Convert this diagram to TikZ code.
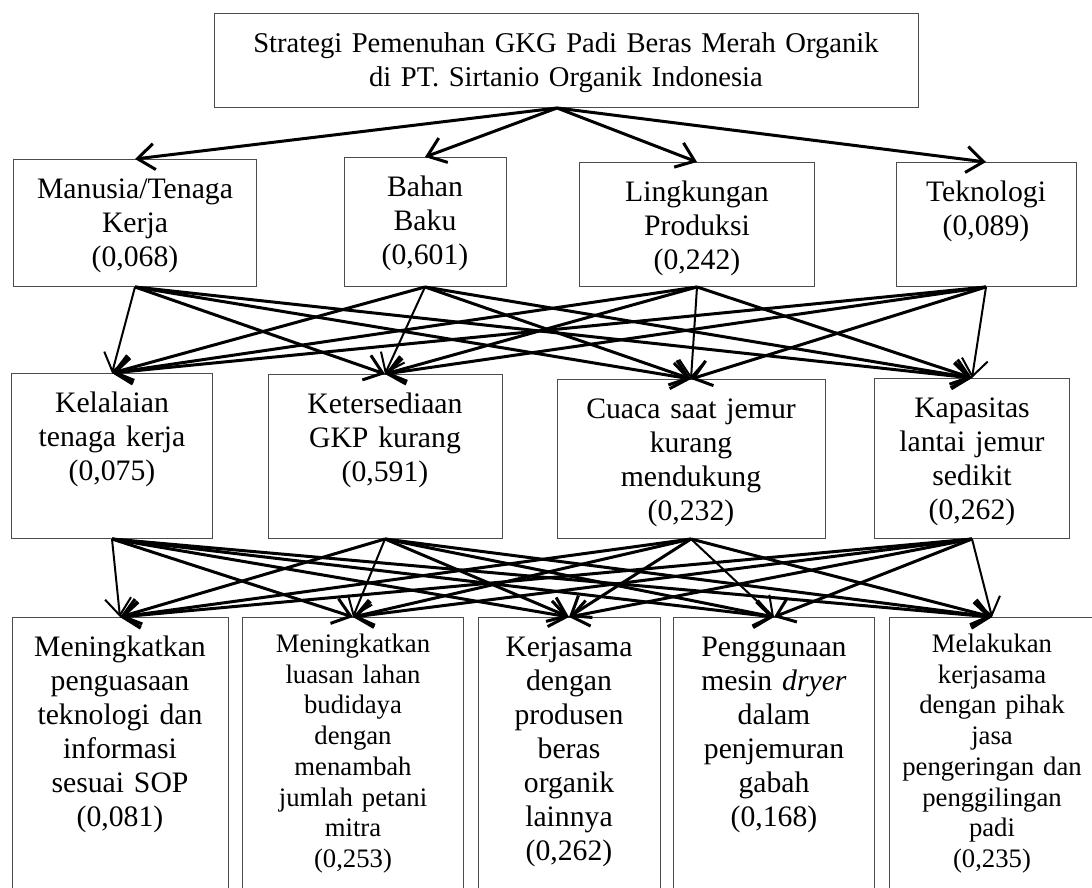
\documentclass[tikz,border=0pt]{standalone}
\usepackage{fontspec}
\setmainfont{Liberation Serif}
\usepackage{tikz}
\usetikzlibrary{arrows.meta}

\begin{document}
\begin{tikzpicture}[x=1pt,y=-1pt]
\tikzset{
    box/.style={draw=black!70, line width=1pt, anchor=north, inner sep=0pt,
                align=center, text height=39pt,
                font=\fontsize{29.7}{34}\selectfont},
    smallbox/.style={box, text height=35pt,
                font=\fontsize{26.7}{30.7}\selectfont},
    link/.style={line width=3pt, -{Straight Barb[length=17pt,width=26pt]}},
    thinlink/.style={line width=2pt, -{Straight Barb[length=17pt,width=26pt]}}
}
\useasboundingbox (0,0) rectangle (1092,888);
\clip (0,0) rectangle (1092,888);

% goal
\node[box, text width=704pt, text depth=55pt, font=\fontsize{28.6}{34}\selectfont] (goal) at (566,13)
    {Strategi Pemenuhan GKG Padi Beras Merah Organik\\di PT. Sirtanio Organik Indonesia};

% criteria
\node[box, text width=243pt, text depth=88pt] (m1) at (135,159) {Manusia/Tenaga\\Kerja\\(0,068)};
\node[box, text width=162pt, text depth=90pt] (m2) at (425,157) {Bahan\\Baku\\(0,601)};
\node[box, text width=235pt, text depth=85pt] (m3) at (697,162) {Lingkungan\\Produksi\\(0,242)};
\node[box, text width=180pt, text depth=85pt] (m4) at (986,162) {Teknologi\\(0,089)};

% problems
\node[box, text width=201pt, text depth=126pt] (k1) at (112,373) {Kelalaian\\tenaga kerja\\(0,075)};
\node[box, text width=234pt, text depth=125pt] (k2) at (385,374) {Ketersediaan\\GKP kurang\\(0,591)};
\node[box, text width=268pt, text depth=120pt] (k3) at (691,379) {Cuaca saat jemur\\kurang\\mendukung\\(0,232)};
\node[box, text width=195pt, text depth=121pt] (k4) at (972,378) {Kapasitas\\lantai jemur\\sedikit\\(0,262)};

% alternatives
\node[box, text width=216pt, text depth=244pt] (s1) at (120,617)
    {Meningkatkan\\penguasaan\\teknologi dan\\informasi\\sesuai SOP\\(0,081)};
\node[smallbox, text width=221pt, text depth=248pt] (s2) at (353,617)
    {Meningkatkan\\luasan lahan\\budidaya\\dengan\\menambah\\jumlah petani\\mitra\\(0,253)};
\node[box, text width=182pt, text depth=244pt] (s3) at (569,617)
    {Kerjasama\\dengan\\produsen\\beras\\organik\\lainnya\\(0,262)};
\node[box, text width=201pt, text depth=244pt] (s4) at (774,617)
    {Penggunaan\\mesin \textit{dryer}\\dalam\\penjemuran\\gabah\\(0,168)};
\node[smallbox, text width=205pt, text depth=248pt] (s5) at (992,617)
    {Melakukan\\kerjasama\\dengan pihak\\jasa\\pengeringan dan\\penggilingan\\padi\\(0,235)};

% goal to criteria
\draw [link] ([xshift=-9pt]goal.south) -- (m1.north);
\draw [link] ([xshift=-9pt]goal.south) -- (m2.north);
\draw [link] ([xshift=-9pt]goal.south) -- (m3.north);
\draw [link] ([xshift=-9pt]goal.south) -- (m4.north);

% criteria to problems
\draw [thinlink] (m1.south) -- (k1.north);
\draw [link] (m1.south) -- (k2.north);
\draw [link] (m1.south) -- (k3.north);
\draw [link] (m1.south) -- (k4.north);
\draw [link] (m2.south) -- (k1.north);
\draw [thinlink] (m2.south) -- (k2.north);
\draw [link] (m2.south) -- (k3.north);
\draw [link] (m2.south) -- (k4.north);
\draw [link] (m3.south) -- (k1.north);
\draw [link] (m3.south) -- (k2.north);
\draw [thinlink] (m3.south) -- (k3.north);
\draw [link] (m3.south) -- (k4.north);
\draw [link] (m4.south) -- (k1.north);
\draw [link] (m4.south) -- (k2.north);
\draw [link] (m4.south) -- (k3.north);
\draw [thinlink] (m4.south) -- (k4.north);

% problems to alternatives
\draw [thinlink] (k1.south) -- (s1.north);
\draw [link] (k1.south) -- (s2.north);
\draw [link] (k1.south) -- (s3.north);
\draw [link] (k1.south) -- (s4.north);
\draw [link] (k1.south) -- (s5.north);
\draw [link] (k2.south) -- (s1.north);
\draw [thinlink] (k2.south) -- (s2.north);
\draw [link] (k2.south) -- (s3.north);
\draw [link] (k2.south) -- (s4.north);
\draw [link] (k2.south) -- (s5.north);
\draw [link] (k3.south) -- (s1.north);
\draw [link] (k3.south) -- (s2.north);
\draw [link] (k3.south) -- (s3.north);
\draw [thinlink] (k3.south) -- (s4.north);
\draw [link] (k3.south) -- (s5.north);
\draw [link] (k4.south) -- (s1.north);
\draw [link] (k4.south) -- (s2.north);
\draw [link] (k4.south) -- (s3.north);
\draw [link] (k4.south) -- (s4.north);
\draw [thinlink] (k4.south) -- (s5.north);
\end{tikzpicture}
\end{document}
